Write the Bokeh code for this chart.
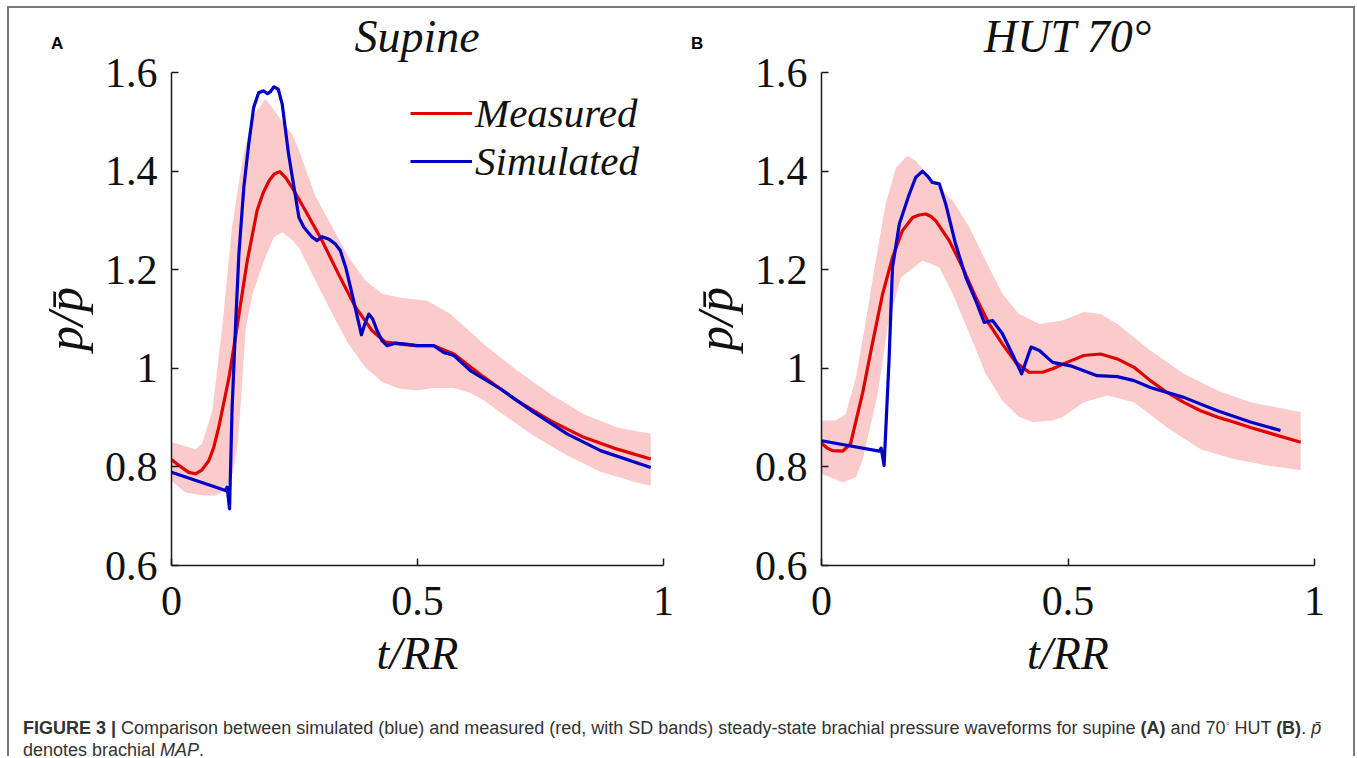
from bokeh.plotting import figure
from bokeh.models import (Legend, LegendItem, FixedTicker,
                          CustomJSTickFormatter, Div, Range1d)
from bokeh.layouts import row, column
from bokeh.embed import file_html
from bokeh.resources import INLINE

# ---------------- data ----------------
x_ticks = [0, 0.5, 1]
y_ticks = [0.6, 0.8, 1.0, 1.2, 1.4, 1.6]

# Panel A: supine
tA_meas = [0, 0.015, 0.035, 0.049, 0.062, 0.076, 0.086, 0.096, 0.117, 0.133,
           0.154, 0.174, 0.186, 0.198, 0.209, 0.22, 0.232, 0.245, 0.272, 0.306,
           0.34, 0.374, 0.408, 0.435, 0.465, 0.496, 0.533, 0.574, 0.635, 0.703,
           0.77, 0.838, 0.906, 0.974]
vA_meas = [0.815, 0.803, 0.789, 0.786, 0.794, 0.813, 0.84, 0.88, 0.982, 1.083,
           1.218, 1.32, 1.355, 1.38, 1.394, 1.399, 1.387, 1.367, 1.32, 1.259,
           1.19, 1.124, 1.076, 1.053, 1.049, 1.046, 1.046, 1.029, 0.982, 0.934,
           0.894, 0.86, 0.836, 0.816]

tA_sim = [0, 0.110, 0.113, 0.118, 0.123, 0.130, 0.137, 0.147, 0.157, 0.167,
          0.177, 0.187, 0.195, 0.201, 0.208, 0.217, 0.225, 0.238, 0.249, 0.259,
          0.269, 0.286, 0.296, 0.306, 0.320, 0.333, 0.343, 0.354, 0.367, 0.381,
          0.386, 0.393, 0.401, 0.409, 0.418, 0.428, 0.438, 0.455, 0.476, 0.499,
          0.533, 0.553, 0.574, 0.608, 0.669, 0.736, 0.804, 0.872, 0.974]
vA_sim = [0.789, 0.752, 0.759, 0.715, 0.914, 1.083, 1.232, 1.367, 1.455, 1.529,
          1.559, 1.563, 1.557, 1.561, 1.571, 1.566, 1.536, 1.434, 1.367, 1.306,
          1.286, 1.266, 1.259, 1.267, 1.262, 1.252, 1.239, 1.205, 1.151, 1.09,
          1.068, 1.09, 1.110, 1.1, 1.076, 1.056, 1.046, 1.051, 1.049, 1.046,
          1.046, 1.032, 1.026, 0.995, 0.958, 0.911, 0.867, 0.833, 0.799]

tA_up = [0, 0.049, 0.062, 0.083, 0.103, 0.123, 0.144, 0.164, 0.191, 0.211,
         0.245, 0.259, 0.293, 0.327, 0.36, 0.394, 0.428, 0.465, 0.52, 0.567,
         0.635, 0.703, 0.77, 0.838, 0.906, 0.974]
vA_up = [0.85, 0.836, 0.847, 0.914, 1.083, 1.286, 1.421, 1.509, 1.546, 1.52,
         1.475, 1.443, 1.348, 1.286, 1.225, 1.178, 1.151, 1.143, 1.137, 1.11,
         1.049, 0.995, 0.948, 0.907, 0.880, 0.867]
tA_lo = [0, 0.028, 0.066, 0.089, 0.11, 0.125, 0.135, 0.142, 0.151, 0.165,
         0.188, 0.208, 0.225, 0.245, 0.259, 0.293, 0.327, 0.36, 0.394, 0.428,
         0.462, 0.496, 0.533, 0.574, 0.608, 0.635, 0.669, 0.736, 0.804, 0.872,
         0.94, 0.974]
vA_lo = [0.772, 0.748, 0.742, 0.742, 0.752, 0.79, 0.85, 0.948, 1.083, 1.151,
         1.218, 1.266, 1.276, 1.26, 1.245, 1.177, 1.11, 1.049, 1.002, 0.972,
         0.959, 0.955, 0.96, 0.96, 0.95, 0.935, 0.91, 0.863, 0.823, 0.79,
         0.77, 0.762]

# Panel B: HUT 70 deg
tB_meas = [0, 0.012, 0.022, 0.043, 0.059, 0.083, 0.103, 0.124, 0.144, 0.164,
           0.185, 0.198, 0.212, 0.222, 0.232, 0.259, 0.286, 0.313, 0.34, 0.367,
           0.394, 0.421, 0.448, 0.469, 0.498, 0.532, 0.566, 0.6, 0.634, 0.667,
           0.701, 0.735, 0.769, 0.803, 0.836, 0.87, 0.904, 0.972]
vB_meas = [0.848, 0.838, 0.833, 0.832, 0.847, 0.948, 1.049, 1.151, 1.225, 1.279,
           1.306, 1.311, 1.313, 1.308, 1.299, 1.259, 1.205, 1.144, 1.09, 1.049,
           1.012, 0.992, 0.992, 0.999, 1.012, 1.026, 1.029, 1.019, 1.002, 0.975,
           0.951, 0.931, 0.914, 0.901, 0.891, 0.880, 0.870, 0.850]

tB_sim = [0, 0.117, 0.121, 0.127, 0.137, 0.144, 0.158, 0.178, 0.191, 0.205,
          0.215, 0.225, 0.239, 0.252, 0.272, 0.293, 0.313, 0.330, 0.347, 0.367,
          0.387, 0.406, 0.425, 0.442, 0.469, 0.505, 0.532, 0.559, 0.6, 0.634,
          0.667, 0.735, 0.803, 0.87, 0.931]
vB_sim = [0.853, 0.832, 0.838, 0.803, 1.016, 1.205, 1.293, 1.353, 1.387, 1.40,
          1.39, 1.377, 1.374, 1.333, 1.252, 1.184, 1.137, 1.093, 1.097, 1.07,
          1.029, 0.989, 1.043, 1.036, 1.012, 1.005, 0.995, 0.985, 0.983, 0.975,
          0.961, 0.941, 0.914, 0.891, 0.874]

tB_up = [0, 0.029, 0.049, 0.07, 0.09, 0.11, 0.13, 0.151, 0.174, 0.191,
         0.225, 0.266, 0.3, 0.333, 0.367, 0.401, 0.442, 0.489, 0.532, 0.566,
         0.6, 0.667, 0.735, 0.803, 0.87, 0.938, 0.972]
vB_up = [0.894, 0.894, 0.907, 0.982, 1.097, 1.218, 1.333, 1.407, 1.431, 1.421,
         1.38, 1.34, 1.286, 1.218, 1.151, 1.11, 1.09, 1.097, 1.114, 1.11,
         1.09, 1.036, 0.989, 0.955, 0.931, 0.918, 0.911]
tB_lo = [0, 0.043, 0.07, 0.083, 0.114, 0.134, 0.161, 0.205, 0.239, 0.266,
         0.3, 0.333, 0.367, 0.401, 0.428, 0.469, 0.489, 0.532, 0.58, 0.634,
         0.701, 0.769, 0.836, 0.904, 0.972]
vB_lo = [0.786, 0.769, 0.779, 0.813, 0.948, 1.083, 1.184, 1.218, 1.205, 1.151,
         1.07, 0.989, 0.934, 0.901, 0.891, 0.894, 0.901, 0.931, 0.945, 0.931,
         0.88, 0.836, 0.816, 0.803, 0.793]

legend_labels = ["Measured", "Simulated"]
panel_titles = ["Supine", "HUT 70°"]
panel_letters = ["A", "B"]
x_label = "t/RR"
y_label = "p/p\u0304"

RED = "#e00000"
BLUE = "#0000c8"
BAND = "#fbcaca"
SERIF = "Liberation Serif"
AXC = "#1a1a1a"

HEAD_H = 36
FIG_H = 668
MB_TOP = 28
FRAME_H = 493


def make_panel(width, mbl, mbr, t_m, v_m, t_s, v_s, t_u, v_u, t_l, v_l):
    p = figure(width=width, height=FIG_H, x_range=Range1d(0, 1),
               y_range=Range1d(0.6, 1.6), output_backend="svg",
               toolbar_location=None, min_border_left=mbl,
               min_border_right=mbr, min_border_top=MB_TOP,
               min_border_bottom=FIG_H - MB_TOP - FRAME_H)
    p.xgrid.visible = False
    p.ygrid.visible = False
    p.outline_line_color = None
    p.background_fill_color = "white"
    p.border_fill_color = None

    band_x = list(t_u) + list(reversed(t_l))
    band_y = list(v_u) + list(reversed(v_l))
    p.patch(band_x, band_y, fill_color=BAND, line_color=None)
    r_m = p.line(t_m, v_m, line_color=RED, line_width=3.2, line_join="round")
    r_s = p.line(t_s, v_s, line_color=BLUE, line_width=3.2, line_join="round")

    p.xaxis.ticker = FixedTicker(ticks=x_ticks)
    p.yaxis.ticker = FixedTicker(ticks=y_ticks)
    fmt = "return String(Number(tick.toFixed(2)));"
    p.xaxis.formatter = CustomJSTickFormatter(code=fmt)
    p.yaxis.formatter = CustomJSTickFormatter(code=fmt)
    for ax in (p.xaxis[0], p.yaxis[0]):
        ax.major_tick_in = 7
        ax.major_tick_out = 0
        ax.minor_tick_line_color = None
        ax.axis_line_color = AXC
        ax.axis_line_width = 1.5
        ax.major_tick_line_color = AXC
        ax.major_tick_line_width = 1.5
        ax.major_label_text_font = SERIF
        ax.major_label_text_font_size = "42px"
        ax.major_label_text_color = "#111111"
        ax.axis_label_text_font = SERIF
        ax.axis_label_text_font_style = "italic"
        ax.axis_label_text_color = "#111111"
    p.xaxis.axis_label = x_label
    p.yaxis.axis_label = y_label
    p.xaxis.axis_label_text_font_size = "46px"
    p.yaxis.axis_label_text_font_size = "50px"
    p.xaxis.major_label_standoff = 21
    p.yaxis.major_label_standoff = 14
    p.xaxis.axis_label_standoff = 10
    p.yaxis.axis_label_standoff = 9
    return p, r_m, r_s


pA, rA_m, rA_s = make_panel(671, 162, 17, tA_meas, vA_meas, tA_sim, vA_sim,
                            tA_up, vA_up, tA_lo, vA_lo)
pB, rB_m, rB_s = make_panel(673, 141, 39, tB_meas, vB_meas, tB_sim, vB_sim,
                            tB_up, vB_up, tB_lo, vB_lo)

leg = Legend(items=[LegendItem(label=legend_labels[0], renderers=[rA_m]),
                    LegendItem(label=legend_labels[1], renderers=[rA_s])],
             location=(239, 380), padding=0, margin=0, spacing=0,
             glyph_width=62, glyph_height=40, label_height=40,
             label_standoff=3, border_line_color=None,
             background_fill_alpha=0, label_text_font=SERIF,
             label_text_font_style="italic", label_text_font_size="41px",
             label_text_color="#111111")
pA.add_layout(leg)


def head_html(width, letter, letter_left, title, frame_left, frame_w):
    return (
        f'<div style="position:relative;width:{width}px;height:{HEAD_H}px;">'
        f'<span style="position:absolute;left:{letter_left}px;top:27px;'
        f"font-family:'Liberation Sans',Arial,sans-serif;font-weight:bold;"
        f'font-size:17px;line-height:17px;color:#000;">{letter}</span>'
        f'<div style="position:absolute;left:{frame_left}px;width:{frame_w}px;'
        f"top:6px;text-align:center;font-family:'Liberation Serif',serif;"
        f'font-style:italic;font-size:46px;line-height:46px;color:#111;'
        f'white-space:nowrap;">{title}</div></div>'
    )


headA = Div(text=head_html(671, panel_letters[0], 42, panel_titles[0], 162, 492),
            width=671, height=HEAD_H, margin=0, styles={"overflow": "visible"})
headB = Div(text=head_html(673, panel_letters[1], 11, panel_titles[1], 141, 493),
            width=673, height=HEAD_H, margin=0, styles={"overflow": "visible"})

caption_html = (
    '<span style="font-weight:bold">FIGURE 3 |</span> Comparison between '
    'simulated (blue) and measured (red, with SD bands) steady-state brachial '
    'pressure waveforms for supine <b>(A)</b> and 70<sup style="font-size:60%">'
    '&#9702;</sup> HUT <b>(B)</b>. <i>p&#772;</i><br>denotes brachial <i>MAP</i>.'
)
cap = Div(text=caption_html, width=1344, height=44, margin=0,
          styles={"font-family": "'Liberation Sans', Arial, sans-serif",
                  "font-size": "18px", "line-height": "22px",
                  "color": "#333333", "padding-left": "14px",
                  "white-space": "nowrap", "box-sizing": "border-box"})

layout = column(row(headA, headB), row(pA, pB), cap,
                styles={"border-top": "2px solid #7a7a7a",
                        "border-left": "2px solid #7a7a7a",
                        "border-right": "2px solid #7a7a7a",
                        "margin-left": "7px", "margin-top": "6px",
                        "background": "white"})

open("out.html", "w").write(file_html(layout, INLINE))
